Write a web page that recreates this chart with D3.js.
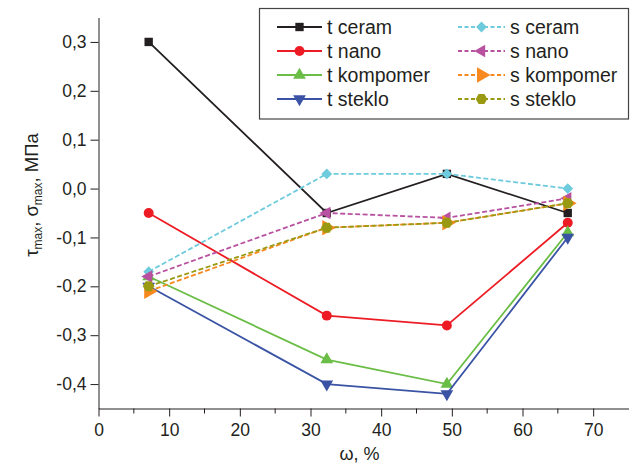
<!DOCTYPE html>
<html><head><meta charset="utf-8">
<script src="https://cdn.jsdelivr.net/npm/d3@7"></script>
<style>body{margin:0;background:#fff}svg{display:block;font-family:"Liberation Sans",Arial,sans-serif}</style>
</head><body>
<svg id="c" width="632" height="465"></svg>
<script>
const xValues = [7.1, 32.3, 49.3, 66.4];
const seriesNames = ["t ceram","t nano","t kompomer","t steklo","s ceram","s nano","s kompomer","s steklo"];
const tCeram     = [0.30, -0.05, 0.03, -0.05];
const tNano      = [-0.05, -0.26, -0.28, -0.07];
const tKompomer  = [-0.18, -0.35, -0.40, -0.09];
const tSteklo    = [-0.20, -0.40, -0.42, -0.10];
const sCeram     = [-0.17, 0.03, 0.03, 0.00];
const sNano      = [-0.18, -0.05, -0.06, -0.02];
const sKompomer  = [-0.21, -0.08, -0.07, -0.03];
const sSteklo    = [-0.20, -0.08, -0.07, -0.03];
const yTicks = [-0.4,-0.3,-0.2,-0.1,0.0,0.1,0.2,0.3];
const xTicks = [0,10,20,30,40,50,60,70];

const values = [tCeram,tNano,tKompomer,tSteklo,sCeram,sNano,sKompomer,sSteklo];
const colors = ["#231f20","#ed1c24","#6abd45","#3a53a4","#6dcbdd","#b852a0","#f7891f","#9a9a12"];
const dashed = [false,false,false,false,true,true,true,true];
const shapes = ["square","circle","up","down","diamond","left","right","hex"];

const svg = d3.select("#c");
const x = d3.scaleLinear().domain([0,75]).range([98.5,628.5]);
const y = d3.scaleLinear().domain([-0.45,0.35]).range([408.5,17.5]);
const fmt = d => d3.format(".1f")(d).replace(".",",").replace("−","-");

// axes
const gx = svg.append("g").attr("transform","translate(0,408.5)")
  .call(d3.axisBottom(x).tickValues(xTicks).tickSize(8).tickSizeOuter(0).tickFormat(d=>d));
gx.append("g").selectAll("line").data(d3.range(5,75,10)).join("line")
  .attr("x1",d=>x(d)).attr("x2",d=>x(d)).attr("y1",0).attr("y2",5).attr("stroke","#231f20");
const gy = svg.append("g").attr("transform","translate(98.5,0)")
  .call(d3.axisLeft(y).tickValues(yTicks).tickSize(8).tickSizeOuter(0).tickFormat(fmt));
[gx,gy].forEach(g=>{
  g.select(".domain").attr("stroke","#231f20");
  g.selectAll(".tick line").attr("stroke","#231f20");
  g.selectAll(".tick text").attr("fill","#231f20").style("font-size","17.5px").style("font-family","Liberation Sans, Arial, sans-serif");
});
gx.selectAll(".tick text").attr("dy","0.95em");
gy.selectAll(".tick text").attr("dx","-1px");

// axis titles
svg.append("text").attr("x",x(37.5)-4).attr("y",460).attr("text-anchor","middle")
  .style("font-size","18px").attr("fill","#231f20").text("ω, %");
const yt = svg.append("text").attr("transform","translate(38,195) rotate(-90)")
  .attr("text-anchor","middle").style("font-size","18.5px").attr("fill","#231f20");
yt.append("tspan").text("τ");
yt.append("tspan").attr("dy",4).style("font-size","12px").text("max");
yt.append("tspan").attr("dy",-4).text(", σ");
yt.append("tspan").attr("dy",4).style("font-size","12px").text("max");
yt.append("tspan").attr("dy",-4).text(", МПа");

function hexPath(r){
  const pts = d3.range(6).map(i=>{const a=Math.PI/3*i; return [r*Math.cos(a), r*Math.sin(a)];});
  return "M"+pts.map(p=>p.join(",")).join("L")+"Z";
}
function markerPath(shape){
  switch(shape){
    case "square": return {d:d3.symbol(d3.symbolSquare,70)(), rot:0};
    case "circle": return {d:d3.symbol(d3.symbolCircle,78)(), rot:0};
    case "up": return {d:d3.symbol(d3.symbolTriangle,70)(), rot:0};
    case "down": return {d:d3.symbol(d3.symbolTriangle,70)(), rot:180};
    case "diamond": return {d:d3.symbol(d3.symbolSquare,58)(), rot:45};
    case "left": return {d:d3.symbol(d3.symbolTriangle,70)(), rot:-90};
    case "right": return {d:d3.symbol(d3.symbolTriangle,105)(), rot:90};
    case "hex": return {d:hexPath(5.8), rot:0};
  }
}

const line = d3.line().x((d,i)=>x(xValues[i])).y(d=>y(d));
values.forEach((vals,k)=>{
  const g = svg.append("g");
  g.append("path").datum(vals).attr("d",line).attr("fill","none")
    .attr("stroke",colors[k]).attr("stroke-width",1.8)
    .attr("stroke-dasharray",dashed[k]?"5,2.5":null);
  const m = markerPath(shapes[k]);
  g.selectAll("path.m").data(vals).join("path").attr("class","m")
    .attr("d",m.d).attr("fill",colors[k])
    .attr("transform",(d,i)=>`translate(${x(xValues[i])},${y(d)}) rotate(${m.rot})`);
});

// legend
const lg = svg.append("g");
lg.append("rect").attr("x",259.5).attr("y",8.5).attr("width",369).attr("height",110.5)
  .attr("fill","#fff").attr("stroke","#444").attr("stroke-width",1.2);
const rows = [27,51,75,99];
seriesNames.forEach((name,k)=>{
  const col = k<4?0:1, r = k%4;
  const x0 = col===0?277:458, x1 = col===0?322:505;
  const cy = rows[r];
  lg.append("line").attr("x1",x0).attr("x2",x1).attr("y1",cy).attr("y2",cy)
    .attr("stroke",colors[k]).attr("stroke-width",1.8)
    .attr("stroke-dasharray",dashed[k]?"4,2.5":null);
  const m = markerPath(shapes[k]);
  lg.append("path").attr("d",m.d).attr("fill",colors[k])
    .attr("transform",`translate(${(x0+x1)/2},${cy}) rotate(${m.rot})`);
  lg.append("text").attr("x",x1+5).attr("y",cy).attr("dy","0.36em")
    .style("font-size","19.5px").attr("fill","#231f20").text(name);
});
</script>
</body></html>
